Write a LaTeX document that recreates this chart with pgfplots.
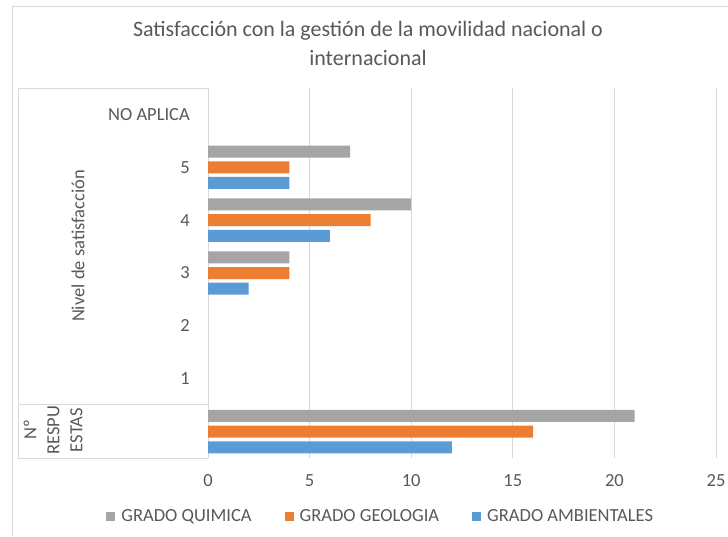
\documentclass[border=0pt]{standalone}
\usepackage{fontspec}
\setmainfont{Carlito}
\usepackage{pgfplots}
\pgfplotsset{compat=1.18}

\definecolor{qgray}{HTML}{A5A5A5}
\definecolor{gorange}{HTML}{ED7D31}
\definecolor{ablue}{HTML}{5B9BD5}
\definecolor{txt}{HTML}{595959}
\definecolor{gridc}{HTML}{D9D9D9}

\begin{document}
\begin{tikzpicture}
% chart area (1pt ~ 1px of the reference)
\path[use as bounding box, fill=white] (0pt,0pt) rectangle (728pt,536pt);
\draw[gridc, line width=0.8pt] (12pt,0pt) -- (12pt,530pt) -- (728pt,530pt);

% title
\node[anchor=base, text=txt, font=\fontsize{22}{26}\selectfont] at (368pt,499pt)
  {Satisfacción con la gestión de la movilidad nacional o};
\node[anchor=base, text=txt, font=\fontsize{22}{26}\selectfont] at (368pt,470pt)
  {internacional};

\begin{axis}[
    at={(208pt,78pt)}, anchor=south west,
    scale only axis,
    width=508pt, height=370pt,
    xbar,
    bar width=12pt,
    xmin=0, xmax=25,
    ymin=-0.5, ymax=6.5,
    xtick={0,5,...,25},
    ytick={1,2,3,4,5,6},
    yticklabels={1,2,3,4,5,NO APLICA},
    major tick length=0pt,
    xmajorgrids,
    grid style={gridc, line width=0.8pt},
    axis line style={draw=none},
    tick label style={text=txt, font=\fontsize{18.5}{22}\selectfont},
    /pgf/number format/assume math mode=true,
    yticklabel style={anchor=east, inner sep=0pt, xshift=-18pt},
    xticklabel style={anchor=north, inner sep=0pt, yshift=-16pt},
    legend columns=3,
    legend style={at={(0.34,-0.157)}, anchor=center, draw=none, fill=none,
        font=\fontsize{18.5}{22}\selectfont, text=txt,
        /tikz/every odd column/.append style={column sep=4pt},
        /tikz/every even column/.append style={column sep=31pt}},
    legend image code/.code={\fill[#1] (0pt,-4.5pt) rectangle (9pt,4.5pt);},
]
\addplot[draw=none, fill=qgray, bar shift=15.7pt] coordinates {
    (21,0) (4,3) (10,4) (7,5)
};
\addplot[draw=none, fill=gorange, bar shift=0pt] coordinates {
    (16,0) (4,3) (8,4) (4,5)
};
\addplot[draw=none, fill=ablue, bar shift=-15.7pt] coordinates {
    (12,0) (2,3) (6,4) (4,5)
};
\legend{GRADO QUIMICA, GRADO GEOLOGIA, GRADO AMBIENTALES}
\end{axis}

% multi-level category axis frame
\draw[gridc, line width=0.8pt] (208pt,448pt) -- (18pt,448pt) -- (18pt,78pt) -- (208pt,78pt);
\draw[gridc, line width=0.8pt] (18pt,132pt) -- (208pt,132pt);

\node[rotate=90, text=txt, font=\fontsize{18.5}{22}\selectfont] at (78pt,290pt)
  {Nivel de satisfacción};
\node[rotate=90, text=txt, align=center, font=\fontsize{18.5}{23}\selectfont] at (53pt,106pt)
  {Nº\\RESPU\\ESTAS};
\end{tikzpicture}
\end{document}
